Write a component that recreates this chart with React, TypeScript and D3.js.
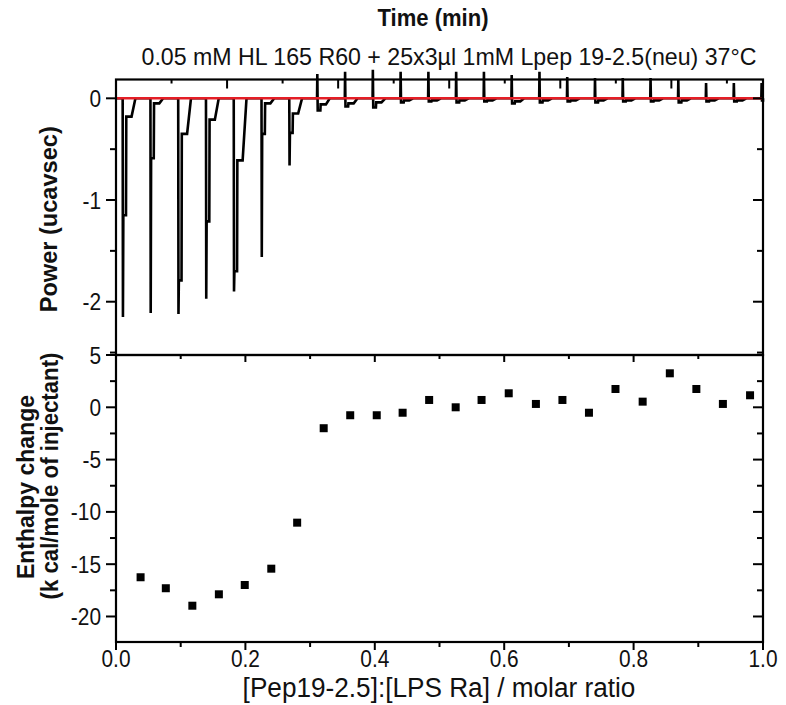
import React from "react";
import * as d3 from "d3";

// ---- data ----
const injectionTimes = [1.2, 6.2, 11.2, 16.2, 21.2, 26.2, 31.2, 36.2, 41.2, 46.2, 51.2, 56.2, 61.2, 66.2, 71.2, 76.2, 81.2, 86.2, 91.2, 96.2, 101.2, 106.2, 111.2, 116.2];
const peakPower = [-2.15, -2.11, -2.12, -1.97, -1.9, -1.56, -0.66, 0.24, 0.26, 0.28, 0.26, 0.26, 0.26, 0.26, 0.23, 0.26, 0.21, 0.2, 0.2, 0.2, 0.18, 0.15, 0.15, 0.15];
const secondPower = [-1.15, -0.59, -1.79, -1.21, -1.7, -0.35, -0.34, -0.12, -0.08, -0.09, -0.04, -0.03, -0.04, -0.03, -0.05, -0.04, -0.03, -0.04, -0.03, -0.03, -0.04, -0.03, -0.03, -0.02];
const tailPower = [-0.18, -0.05, -0.35, -0.21, -0.61, -0.05, -0.15, -0.06, -0.05, -0.04, -0.02, -0.02, -0.02, -0.02, -0.03, -0.02, -0.02, -0.02, -0.02, -0.02, -0.02, -0.02, -0.02, -0.01];

const molarRatio = [0.038, 0.077, 0.118, 0.159, 0.199, 0.24, 0.28, 0.321, 0.362, 0.403, 0.443, 0.484, 0.525, 0.565, 0.607, 0.649, 0.69, 0.731, 0.772, 0.814, 0.856, 0.897, 0.938, 0.98];
const enthalpy = [-16.25, -17.3, -18.97, -17.88, -16.99, -15.43, -11.03, -2.0, -0.76, -0.76, -0.52, 0.7, 0.0, 0.7, 1.34, 0.32, 0.7, -0.52, 1.75, 0.54, 3.25, 1.75, 0.32, 1.15];

const powerTicks = [0, -1, -2];
const powerMinorTicks = [-0.5, -1.5, -2.5];
const enthalpyTicks = [5, 0, -5, -10, -15, -20];
const enthalpyMinorTicks = [2.5, -2.5, -7.5, -12.5, -17.5];
const ratioTicks = [0, 0.2, 0.4, 0.6, 0.8, 1.0];
const ratioMinorTicks = [0.1, 0.3, 0.5, 0.7, 0.9];
const timeMajorTicks = [20, 40, 60, 80, 100];
const timeMinorTicks = [10, 30, 50, 70, 90, 110];

const titleText = "Time (min)";
const subtitleText = "0.05 mM HL 165 R60 + 25x3\u00b5l 1mM Lpep 19-2.5(neu) 37\u00b0C";
const powerLabel = "Power (ucavsec)";
const enthalpyLabel1 = "Enthalpy change";
const enthalpyLabel2 = "(k cal/mole of injectant)";
const xLabel = "[Pep19-2.5]:[LPS Ra] / molar ratio";

// ---- layout ----
const W = 786;
const H = 705;
const left = 116;
const right = 763;
const topY = 79.5;
const midY = 355;
const bottomY = 642;
const FONT = "'Liberation Sans', Arial, Helvetica, sans-serif";
const NARROW = 0.87;

export default function App() {
  const xTime = d3.scaleLinear().domain([0, 116.5]).range([left, right]);
  const yPower = d3.scaleLinear().domain([-2.524, 0.185]).range([midY, topY]);
  const xRatio = d3.scaleLinear().domain([0, 1]).range([left, right]);
  const yEnth = d3.scaleLinear().domain([-22.44, 5]).range([bottomY, midY]);

  // build thermogram trace from injection readings
  const pts: [number, number][] = [[0, 0]];
  injectionTimes.forEach((t, i) => {
    pts.push([t, 0]);
    pts.push([t + 0.05, peakPower[i]]);
    pts.push([t + 0.12, secondPower[i]]);
    pts.push([t + 0.6, secondPower[i]]);
    pts.push([t + 0.65, tailPower[i]]);
    pts.push([t + 1.6, tailPower[i]]);
    pts.push([t + 2.3, 0]);
  });
  const trace = d3
    .line<[number, number]>()
    .x((d) => xTime(Math.min(d[0], 116.5)))
    .y((d) => yPower(d[1]))(pts);

  const sq = 8;

  const tickLabel = (x: number, y: number, txt: string, anchor: "end" | "middle", key: string) => (
    <text key={key} transform={`translate(${x}, ${y}) scale(${NARROW}, 1)`} textAnchor={anchor} fontSize={24} fill="#111">{txt}</text>
  );

  return (
    <svg width={W} height={H} style={{ display: "block", position: "absolute", left: 0, top: 0, background: "#fff" }} fontFamily={FONT}>
      <rect x={0} y={0} width={W} height={H} fill="#fff" />
      {/* titles */}
      <text x={433} y={26} textAnchor="middle" fontSize={23} fontWeight="bold" fill="#111" textLength={111} lengthAdjust="spacingAndGlyphs">{titleText}</text>
      <text x={449} y={65} textAnchor="middle" fontSize={24} fill="#111" textLength={615} lengthAdjust="spacingAndGlyphs">{subtitleText}</text>

      {/* ---- top panel ---- */}
      <path d={trace || ""} fill="none" stroke="#000" strokeWidth={2.6} strokeLinejoin="miter" />
      <line x1={xTime(0)} x2={right} y1={yPower(0)} y2={yPower(0)} stroke="#e41e26" strokeWidth={2.6} />
      {/* top spine time ticks */}
      {timeMajorTicks.map((t) => (
        <line key={"tM" + t} x1={xTime(t)} x2={xTime(t)} y1={topY} y2={topY + 9} stroke="#000" strokeWidth={2} />
      ))}
      {timeMinorTicks.map((t) => (
        <line key={"tm" + t} x1={xTime(t)} x2={xTime(t)} y1={topY} y2={topY + 4} stroke="#000" strokeWidth={2} />
      ))}
      {powerTicks.map((v) => (
        <g key={"p" + v}>
          <line x1={left - 10} x2={left} y1={yPower(v)} y2={yPower(v)} stroke="#000" strokeWidth={2} />
          <line x1={right - 10} x2={right} y1={yPower(v)} y2={yPower(v)} stroke="#000" strokeWidth={2} />
          {tickLabel(101, yPower(v) + 8.5, String(v), "end", "pl" + v)}
        </g>
      ))}
      {powerMinorTicks.map((v) => (
        <g key={"pm" + v}>
          <line x1={left - 6} x2={left} y1={yPower(v)} y2={yPower(v)} stroke="#000" strokeWidth={2} />
          <line x1={right - 6} x2={right} y1={yPower(v)} y2={yPower(v)} stroke="#000" strokeWidth={2} />
        </g>
      ))}
      <rect x={left} y={topY} width={right - left} height={midY - topY} fill="none" stroke="#000" strokeWidth={2.2} />
      <text transform={`translate(49, ${(topY + midY) / 2 + 2}) rotate(-90)`} textAnchor="middle" dominantBaseline="central" fontSize={23} fontWeight="bold" fill="#111" textLength={186} lengthAdjust="spacingAndGlyphs">{powerLabel}</text>

      {/* ---- bottom panel ---- */}
      {ratioTicks.map((v) => (
        <g key={"r" + v}>
          <line x1={xRatio(v)} x2={xRatio(v)} y1={bottomY} y2={bottomY + 8} stroke="#000" strokeWidth={2} />
          <line x1={xRatio(v)} x2={xRatio(v)} y1={midY} y2={midY + 7} stroke="#000" strokeWidth={2} />
          {tickLabel(xRatio(v), 667, d3.format(".1f")(v), "middle", "rl" + v)}
        </g>
      ))}
      {ratioMinorTicks.map((v) => (
        <g key={"rm" + v}>
          <line x1={xRatio(v)} x2={xRatio(v)} y1={bottomY} y2={bottomY + 5} stroke="#000" strokeWidth={2} />
          <line x1={xRatio(v)} x2={xRatio(v)} y1={midY} y2={midY + 4} stroke="#000" strokeWidth={2} />
        </g>
      ))}
      {enthalpyTicks.map((v) => (
        <g key={"e" + v}>
          <line x1={left - 10} x2={left} y1={yEnth(v)} y2={yEnth(v)} stroke="#000" strokeWidth={2} />
          <line x1={right - 10} x2={right} y1={yEnth(v)} y2={yEnth(v)} stroke="#000" strokeWidth={2} />
          {tickLabel(101, yEnth(v) + 8.5, String(v), "end", "el" + v)}
        </g>
      ))}
      {enthalpyMinorTicks.map((v) => (
        <g key={"em" + v}>
          <line x1={left - 6} x2={left} y1={yEnth(v)} y2={yEnth(v)} stroke="#000" strokeWidth={2} />
          <line x1={right - 6} x2={right} y1={yEnth(v)} y2={yEnth(v)} stroke="#000" strokeWidth={2} />
        </g>
      ))}
      {molarRatio.map((r, i) => (
        <rect key={"s" + i} x={xRatio(r) - sq / 2} y={yEnth(enthalpy[i]) - sq / 2} width={sq} height={sq} fill="#000" />
      ))}
      <rect x={left} y={midY} width={right - left} height={bottomY - midY} fill="none" stroke="#000" strokeWidth={2.2} />
      <text transform={`translate(26, 487) rotate(-90)`} textAnchor="middle" dominantBaseline="central" fontSize={23} fontWeight="bold" fill="#111">{enthalpyLabel1}</text>
      <text transform={`translate(50, 476) rotate(-90)`} textAnchor="middle" dominantBaseline="central" fontSize={23} fontWeight="bold" fill="#111" textLength={247} lengthAdjust="spacingAndGlyphs">{enthalpyLabel2}</text>
      <text transform={`translate(439, 697) scale(0.97, 1)`} textAnchor="middle" fontSize={27} fill="#111">{xLabel}</text>
    </svg>
  );
}
